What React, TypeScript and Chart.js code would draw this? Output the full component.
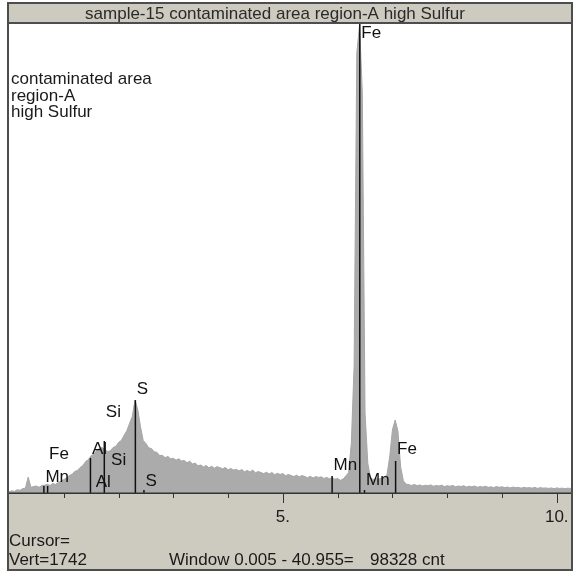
import React, { useEffect, useRef } from 'react';
import { Chart, registerables } from 'chart.js';

Chart.register(...registerables);

// ---- text ----
const TITLE = 'sample-15 contaminated area region-A high Sulfur';
const NOTE_LINES = ['contaminated area', 'region-A', 'high Sulfur'];
const STATUS_CURSOR = 'Cursor=';
const STATUS_VERT = 'Vert=1742';
const STATUS_WINDOW = 'Window 0.005 - 40.955=';
const STATUS_COUNT = '98328 cnt';

// ---- spectrum (counts per channel, channels START_KEV + i * STEP_KEV) ----
const START_KEV = 0;
const STEP_KEV = 0.05;
const COUNTS = [
  4, 8, 6, 12, 10, 16, 18, 59, 21, 24,
  26, 21, 28, 29, 32, 28, 35, 32, 39, 44,
  50, 55, 65, 69, 80, 84, 95, 102, 117, 124,
  139, 143, 158, 165, 169, 161, 154, 157, 169, 173,
  188, 195, 214, 231, 258, 284, 345, 310, 247, 195,
  184, 168, 165, 153, 151, 139, 140, 131, 136, 127,
  129, 122, 127, 119, 121, 112, 118, 108, 111, 101,
  104, 97, 102, 94, 99, 92, 98, 94, 90, 95,
  86, 91, 85, 88, 82, 87, 79, 84, 78, 85,
  75, 80, 76, 72, 77, 71, 76, 68, 73, 69,
  72, 64, 69, 65, 61, 66, 60, 65, 61, 57,
  62, 56, 61, 58, 60, 54, 58, 53, 57, 51,
  54, 47, 52, 63, 76, 186, 470, 1634, 1738, 1486,
  297, 111, 56, 50, 54, 51, 56, 58, 67, 134,
  234, 271, 230, 97, 45, 33, 31, 28, 32, 27,
  30, 26, 29, 27, 30, 25, 28, 26, 29, 24,
  27, 25, 28, 23, 26, 24, 27, 22, 25, 23,
  26, 21, 24, 22, 25, 21, 23, 20, 24, 21,
  23, 20, 22, 19, 22, 20, 21, 18, 21, 19,
  20, 18, 21, 17, 20, 18, 19, 17, 19, 16,
  19, 17, 18, 16, 18, 17, 16,
];

// ---- axes ----
const X_MIN = 0;
const X_MAX = 10.26;
const Y_MAX = 1742;
const TICK_VALUES = [1, 2, 3, 4, 5, 6, 7, 8, 9, 10];
const MAJOR_TICK_VALUES = [5, 10];
const MAJOR_TICK_LABELS = ['5.', '10.'];

// ---- element line markers ----
const MARKER_LABELS = ['Mn', 'Fe', 'Al', 'Al', 'Si', 'Si', 'S', 'S', 'Mn', 'Fe', 'Mn', 'Fe'];
const MARKER_KEV = [0.637, 0.705, 1.487, 1.557, 1.74, 1.836, 2.307, 2.464, 5.899, 6.404, 6.49, 7.058];
const MARKER_HEIGHTS = [26, 26, 130, 0, 193, 0, 345, 11, 63, 1742, 11, 119];
const MARKER_LABEL_LEVELS = [59, 145, 163, 41, 301, 123, 386, 45, 104, 1708, 48, 163];

const FONT = '"Liberation Sans", Arial, sans-serif';
const PANEL = '#cdcac0';
const FRAME = '#4d4d4d';

const framePlugin = {
  id: 'edsFrame',
  beforeDraw(chart: any) {
    const ctx = chart.ctx as CanvasRenderingContext2D;
    ctx.save();
    ctx.fillStyle = '#ffffff';
    ctx.fillRect(7, 2, 567, 569);
    ctx.fillStyle = PANEL;
    ctx.fillRect(9, 4, 563, 19);
    ctx.fillRect(9, 493, 563, 77);
    ctx.restore();
  },
  afterDraw(chart: any) {
    const ctx = chart.ctx as CanvasRenderingContext2D;
    const xs = chart.scales.x;
    const ys = chart.scales.y;
    const area = chart.chartArea;
    ctx.save();

    // element marker lines + labels
    ctx.strokeStyle = '#111111';
    ctx.lineWidth = 1.5;
    ctx.fillStyle = '#111111';
    ctx.font = `17px ${FONT}`;
    ctx.textAlign = 'left';
    ctx.textBaseline = 'middle';
    MARKER_KEV.forEach((e, i) => {
      const px = xs.getPixelForValue(e);
      const h = MARKER_HEIGHTS[i];
      if (h > 0) {
        ctx.beginPath();
        ctx.moveTo(px, ys.getPixelForValue(0));
        ctx.lineTo(px, ys.getPixelForValue(h));
        ctx.stroke();
      }
      ctx.fillText(MARKER_LABELS[i], px + 1.5, ys.getPixelForValue(MARKER_LABEL_LEVELS[i]));
    });

    // left annotation
    ctx.fillStyle = '#1a1a1a';
    ctx.textBaseline = 'alphabetic';
    NOTE_LINES.forEach((t, i) => ctx.fillText(t, 11, 84 + i * 16.5));

    // title bar separator + title
    ctx.fillStyle = FRAME;
    ctx.fillRect(9, 22, 563, 2);
    ctx.fillStyle = '#2a2a2a';
    ctx.textAlign = 'center';
    ctx.fillText(TITLE, 275, 19);

    // axis line
    ctx.fillStyle = '#333333';
    ctx.fillRect(9, area.bottom - 0.5, 563, 1.5);

    // ticks
    ctx.strokeStyle = '#333333';
    ctx.lineWidth = 1;
    TICK_VALUES.forEach((v) => {
      const px = Math.round(xs.getPixelForValue(v)) + 0.5;
      const major = MAJOR_TICK_VALUES.includes(v);
      ctx.beginPath();
      ctx.moveTo(px, area.bottom);
      ctx.lineTo(px, area.bottom + (major ? 10 : 5));
      ctx.stroke();
    });
    ctx.fillStyle = '#1a1a1a';
    ctx.textAlign = 'center';
    MAJOR_TICK_VALUES.forEach((v, i) => {
      ctx.fillText(MAJOR_TICK_LABELS[i], xs.getPixelForValue(v), 522);
    });

    // status texts
    ctx.textAlign = 'left';
    ctx.fillText(STATUS_CURSOR, 9, 546);
    ctx.fillText(STATUS_VERT, 9, 565);
    ctx.fillText(STATUS_WINDOW, 169, 565);
    ctx.fillText(STATUS_COUNT, 370, 565);

    // outer border
    ctx.fillStyle = FRAME;
    ctx.fillRect(7, 2, 566, 2);
    ctx.fillRect(7, 569, 566, 2);
    ctx.fillRect(7, 2, 2, 569);
    ctx.fillRect(571, 2, 2, 569);
    ctx.restore();
  },
};

export default function App() {
  const canvasRef = useRef<HTMLCanvasElement | null>(null);

  useEffect(() => {
    const canvas = canvasRef.current;
    if (!canvas) return;
    const points = COUNTS.map((c, i) => ({ x: START_KEV + i * STEP_KEV, y: c }));
    const chart = new Chart(canvas, {
      type: 'line',
      data: {
        datasets: [
          {
            data: points,
            fill: 'origin',
            backgroundColor: '#ababab',
            borderColor: '#a6a6a6',
            borderWidth: 1,
            pointRadius: 0,
            tension: 0,
          },
        ],
      },
      options: {
        responsive: false,
        maintainAspectRatio: false,
        animation: false,
        events: [],
        layout: { padding: { left: 9, right: 3, top: 24, bottom: 78 } },
        plugins: {
          legend: { display: false },
          title: { display: false },
          tooltip: { enabled: false },
        },
        scales: {
          x: { type: 'linear', min: X_MIN, max: X_MAX, display: false },
          y: { type: 'linear', min: 0, max: Y_MAX, display: false },
        },
      },
      plugins: [framePlugin],
    });
    return () => chart.destroy();
  }, []);

  return (
    <div style={{ position: 'absolute', left: 0, top: 0, width: 574, height: 571 }}>
      <canvas ref={canvasRef} width={574} height={571} style={{ display: 'block' }} />
    </div>
  );
}
